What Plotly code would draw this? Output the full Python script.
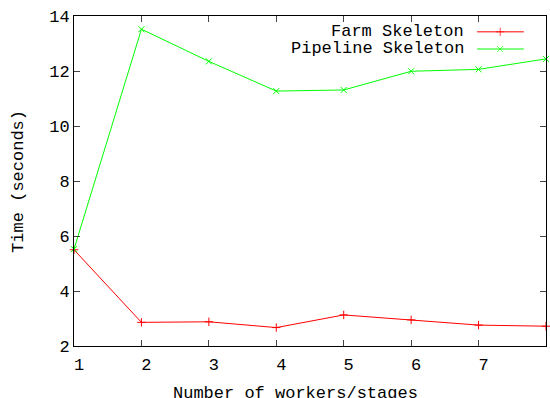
import plotly.graph_objects as go

workers = [1, 2, 3, 4, 5, 6, 7, 8]
farm_time = [5.50, 2.86, 2.88, 2.67, 3.13, 2.95, 2.76, 2.72]
pipeline_time = [5.52, 13.52, 12.35, 11.27, 11.31, 11.99, 12.06, 12.44]
series_names = ["Farm Skeleton", "Pipeline Skeleton"]
colors = ["#ff0000", "#00ff00"]
symbols = ["cross-thin", "x-thin"]
x_title = "Number of workers/stages"
y_title = "Time (seconds)"

FONT = "Liberation Mono, Courier New, monospace"
FS = 17

fig = go.Figure()
for name, ys, c, s in zip(series_names, [farm_time, pipeline_time], colors, symbols):
    fig.add_trace(go.Scatter(
        x=workers, y=ys, mode="lines+markers", name=name,
        line=dict(color=c, width=1),
        marker=dict(symbol=s, size=6, color=c, line=dict(color=c, width=1)),
        showlegend=False, cliponaxis=False,
    ))

# gnuplot-style legend: text on the left, sample on the right
leg_y = [0.952, 0.90]
for name, c, s, yy in zip(series_names, colors, symbols, leg_y):
    fig.add_trace(go.Scatter(
        x=[0.854, 0.903, 0.953], y=[yy, yy, yy], xaxis="x2", yaxis="y2",
        mode="lines+markers", line=dict(color=c, width=1),
        marker=dict(symbol=s, size=[0, 6, 0], color=c, line=dict(color=c, width=1)),
        showlegend=False, hoverinfo="skip",
    ))
    fig.add_annotation(x=0.830, y=yy, xref="paper", yref="paper", text=name,
                       showarrow=False, xanchor="right", yanchor="middle",
                       font=dict(family=FONT, size=FS, color="#000"))

# axis titles placed like gnuplot
fig.add_annotation(x=0.47, y=-0.145, xref="paper", yref="paper", text=x_title,
                   showarrow=False, xanchor="center", yanchor="middle",
                   font=dict(family=FONT, size=FS, color="#000"))
fig.add_annotation(x=-0.119, y=0.5, xref="paper", yref="paper", text=y_title,
                   showarrow=False, xanchor="center", yanchor="middle", textangle=-90,
                   font=dict(family=FONT, size=FS, color="#000"))

fig.update_layout(
    width=550, height=398,
    margin=dict(l=74, r=4, t=16, b=52, autoexpand=False),
    plot_bgcolor="white", paper_bgcolor="white",
    font=dict(family=FONT, size=FS, color="#000"),
    xaxis=dict(range=[1, 8], tickvals=workers, ticks="inside", ticklen=6,
               showline=True, linecolor="#000", linewidth=1, mirror="ticks",
               showgrid=False, zeroline=False, automargin=False,
               ticklabelstandoff=3, ticklabelshift=5),
    yaxis=dict(range=[2, 14], tickvals=[2, 4, 6, 8, 10, 12, 14], ticks="inside", ticklen=6,
               showline=True, linecolor="#000", linewidth=1, mirror="ticks",
               showgrid=False, zeroline=False, automargin=False),
    xaxis2=dict(range=[0, 1], overlaying="x", visible=False, fixedrange=True),
    yaxis2=dict(range=[0, 1], overlaying="y", visible=False, fixedrange=True),
)

fig.write_html("out.html", config={"displayModeBar": False},
               post_script="document.body.style.margin='0';")
